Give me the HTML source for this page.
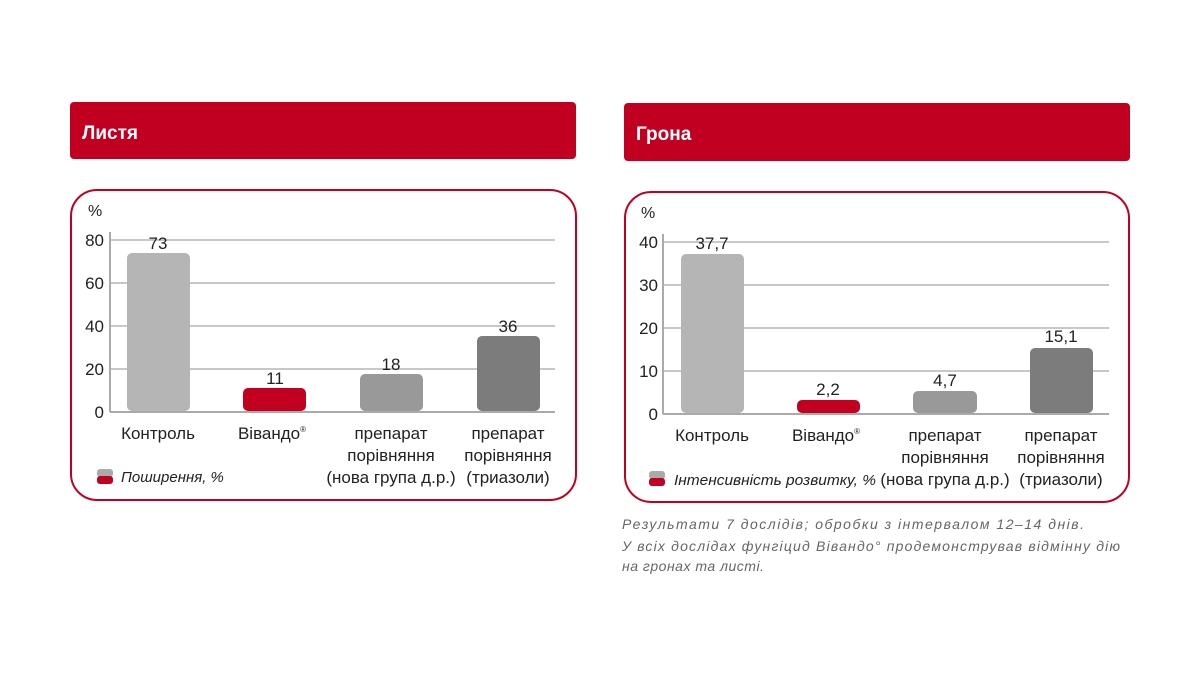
<!DOCTYPE html>
<html><head><meta charset="utf-8"><style>
html,body{margin:0;padding:0;background:#fff}
svg{display:block}
text{font-family:"Liberation Sans",sans-serif}
</style></head><body>
<svg width="1200" height="675" viewBox="0 0 1200 675">
<!-- Left -->
<rect x="70" y="102" width="506" height="57" rx="4" fill="#c10021"/>
<text x="82" y="139" font-size="19" font-weight="bold" fill="#fff">Листя</text>
<rect x="71" y="190" width="505" height="310" rx="26" fill="none" stroke="#c10021" stroke-width="2"/>
<text x="88" y="216" font-size="16" fill="#222">%</text>
<g stroke="#c8c8c8" stroke-width="2"><line x1="110" y1="240" x2="555" y2="240"/><line x1="110" y1="283" x2="555" y2="283"/><line x1="110" y1="326" x2="555" y2="326"/><line x1="110" y1="369" x2="555" y2="369"/></g>
<line x1="110" y1="232" x2="110" y2="412" stroke="#aaa" stroke-width="2"/>
<line x1="110" y1="412" x2="555" y2="412" stroke="#aaa" stroke-width="2"/>
<g font-size="17" fill="#222" text-anchor="end"><text x="104" y="246">80</text><text x="104" y="289">60</text><text x="104" y="332">40</text><text x="104" y="375">20</text><text x="104" y="418">0</text></g>
<rect x="127" y="253" width="63" height="158" rx="5" fill="#b5b5b5"/>
<rect x="243" y="388" width="63" height="23" rx="5" fill="#c20020"/>
<rect x="360" y="374" width="63" height="37" rx="5" fill="#999"/>
<rect x="477" y="336" width="63" height="75" rx="5" fill="#7c7c7c"/>
<g font-size="17" fill="#222" text-anchor="middle">
<text x="158" y="249">73</text><text x="275" y="384">11</text><text x="391" y="370">18</text><text x="508" y="332">36</text>
<text x="158" y="439">Контроль</text><text x="272" y="439">Вівандо<tspan font-size="8" dy="-7">®</tspan></text>
<text x="391" y="439">препарат</text><text x="391" y="461">порівняння</text><text x="391" y="483">(нова група д.р.)</text>
<text x="508" y="439">препарат</text><text x="508" y="461">порівняння</text><text x="508" y="483">(триазоли)</text>
</g>
<rect x="97" y="469" width="16" height="8" rx="3" fill="#aaa"/><rect x="97" y="476" width="16" height="8" rx="3" fill="#c20020"/>
<text x="121" y="482" font-size="15" font-style="italic" fill="#222">Поширення, %</text>

<!-- Right -->
<rect x="624" y="103" width="506" height="58" rx="4" fill="#c10021"/>
<text x="636" y="140" font-size="19" font-weight="bold" fill="#fff">Грона</text>
<rect x="625" y="192" width="504" height="310" rx="26" fill="none" stroke="#c10021" stroke-width="2"/>
<text x="641" y="218" font-size="16" fill="#222">%</text>
<g stroke="#c8c8c8" stroke-width="2"><line x1="663" y1="242" x2="1109" y2="242"/><line x1="663" y1="285" x2="1109" y2="285"/><line x1="663" y1="328" x2="1109" y2="328"/><line x1="663" y1="371" x2="1109" y2="371"/></g>
<line x1="663" y1="234" x2="663" y2="414" stroke="#aaa" stroke-width="2"/>
<line x1="663" y1="414" x2="1109" y2="414" stroke="#aaa" stroke-width="2"/>
<g font-size="17" fill="#222" text-anchor="end"><text x="658" y="248">40</text><text x="658" y="291">30</text><text x="658" y="334">20</text><text x="658" y="377">10</text><text x="658" y="420">0</text></g>
<rect x="681" y="254" width="63" height="159" rx="5" fill="#b5b5b5"/>
<rect x="797" y="400" width="63" height="13" rx="5" fill="#c20020"/>
<rect x="913" y="391" width="64" height="22" rx="5" fill="#999"/>
<rect x="1030" y="348" width="63" height="65" rx="5" fill="#7c7c7c"/>
<g font-size="17" fill="#222" text-anchor="middle">
<text x="712" y="249">37,7</text><text x="828" y="395">2,2</text><text x="945" y="386">4,7</text><text x="1061" y="342">15,1</text>
<text x="712" y="441">Контроль</text><text x="826" y="441">Вівандо<tspan font-size="8" dy="-7">®</tspan></text>
<text x="945" y="441">препарат</text><text x="945" y="463">порівняння</text><text x="945" y="485">(нова група д.р.)</text>
<text x="1061" y="441">препарат</text><text x="1061" y="463">порівняння</text><text x="1061" y="485">(триазоли)</text>
</g>
<rect x="649" y="471" width="16" height="8" rx="3" fill="#aaa"/><rect x="649" y="478" width="16" height="8" rx="3" fill="#c20020"/>
<text x="674" y="485" font-size="15" font-style="italic" fill="#222" textLength="202" lengthAdjust="spacingAndGlyphs">Інтенсивність розвитку, %</text>

<g font-size="14" font-style="italic" fill="#666">
<text x="622" y="529" textLength="462" lengthAdjust="spacing">Результати 7 дослідів; обробки з інтервалом 12–14 днів.</text>
<text x="622" y="551" textLength="498" lengthAdjust="spacing">У всіх дослідах фунгіцид Вівандо° продемонстрував відмінну дію</text>
<text x="622" y="571" textLength="142" lengthAdjust="spacing">на гронах та листі.</text>
</g>
</svg>
</body></html>
